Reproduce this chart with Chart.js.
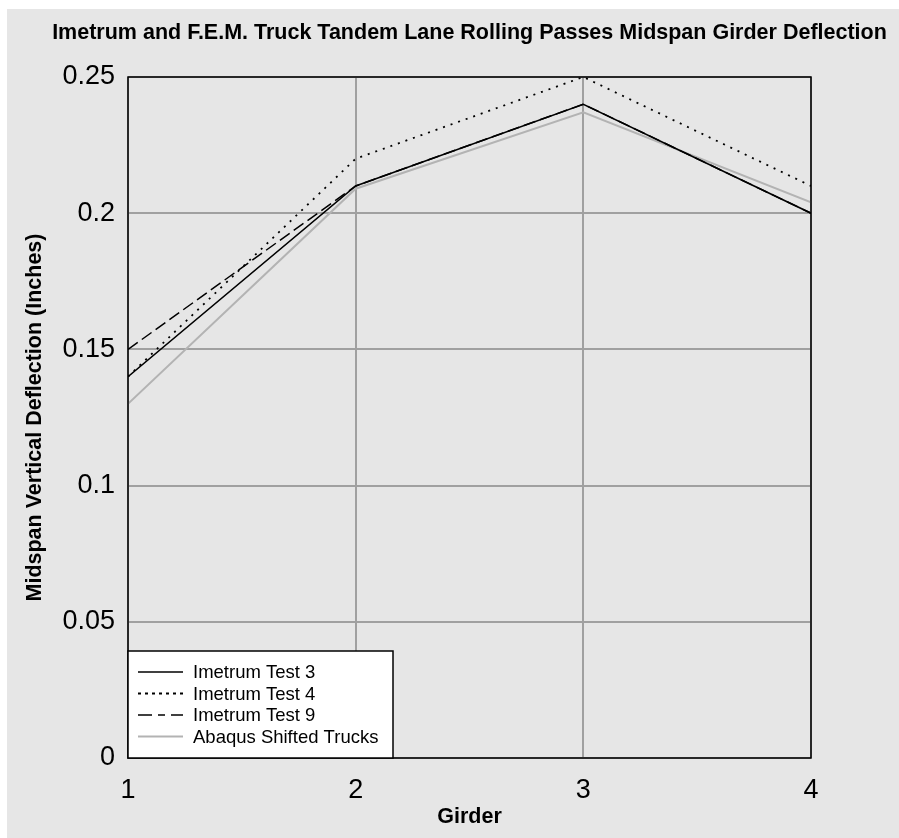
<!DOCTYPE html>
<html>
<head>
<meta charset="utf-8">
<title>Midspan Girder Deflection</title>
<script src="https://cdn.jsdelivr.net/npm/chart.js@4.4.1/dist/chart.umd.min.js"></script>
<style>
  html, body { margin: 0; padding: 0; background: #ffffff; }
  canvas { display: block; }
</style>
</head>
<body>
<canvas id="chart" width="899" height="838"></canvas>
<script>
// Girder numbers along the x axis
const girders = [1, 2, 3, 4];

// Midspan vertical deflection per girder (inches)
const imetrumTest3 = [0.14, 0.21, 0.24, 0.20];
const imetrumTest4 = [0.14, 0.22, 0.25, 0.21];
const imetrumTest9 = [0.15, 0.21, 0.24, 0.20];
const abaqusShifted = [0.13, 0.209, 0.237, 0.204];

// Y axis tick labels
const yTickLabels = ['0', '0.05', '0.1', '0.15', '0.2', '0.25'];

const seriesNames = ['Imetrum Test 3', 'Imetrum Test 4', 'Imetrum Test 9', 'Abaqus Shifted Trucks'];
const chartTitle = 'Imetrum and F.E.M. Truck Tandem Lane Rolling Passes Midspan Girder Deflection';

const FONT = "'Liberation Sans', Arial, Helvetica, sans-serif";
const PANEL = '#e6e6e6';

const toPoints = vals => girders.map((g, i) => ({ x: g, y: vals[i] }));

// Panel background, title, frame and in-plot legend
const decorations = {
  id: 'decorations',
  beforeDraw(chart) {
    const { ctx, width, height, chartArea: a } = chart;
    ctx.save();
    ctx.fillStyle = '#ffffff';
    ctx.fillRect(0, 0, width, height);
    ctx.fillStyle = PANEL;
    ctx.fillRect(7, 9, width - 7, height - 9);
    // title centred over the plot, allowed to run past its edges
    ctx.fillStyle = '#000000';
    ctx.font = 'bold 21.5px ' + FONT;
    ctx.textAlign = 'center';
    ctx.textBaseline = 'middle';
    ctx.fillText(chartTitle, (a.left + a.right) / 2, 33);
    ctx.restore();
  },
  afterDatasetsDraw(chart) {
    const { ctx, chartArea: a } = chart;
    ctx.save();
    ctx.strokeStyle = '#000000';
    ctx.lineWidth = 1.5;
    ctx.strokeRect(a.left, a.top, a.right - a.left, a.bottom - a.top);
    ctx.restore();
  },
  afterDraw(chart) {
    const { ctx, chartArea: a } = chart;
    const boxW = 265, boxH = 107;
    const x0 = a.left, y0 = a.bottom - boxH;
    ctx.save();
    ctx.fillStyle = '#ffffff';
    ctx.fillRect(x0, y0, boxW, boxH);
    ctx.strokeStyle = '#000000';
    ctx.lineWidth = 1.5;
    ctx.strokeRect(x0, y0, boxW, boxH);
    ctx.font = '18.5px ' + FONT;
    ctx.textBaseline = 'middle';
    ctx.textAlign = 'left';
    chart.data.datasets.forEach((ds, i) => {
      const y = y0 + 21 + i * 21.5;
      ctx.beginPath();
      ctx.strokeStyle = ds.borderColor;
      ctx.lineWidth = ds.borderWidth;
      ctx.setLineDash(ds.legendDash || ds.borderDash || []);
      ctx.moveTo(x0 + 10, y);
      ctx.lineTo(x0 + 55, y);
      ctx.stroke();
      ctx.setLineDash([]);
      ctx.fillStyle = '#000000';
      ctx.fillText(ds.label, x0 + 65, y + 1);
    });
    ctx.restore();
  }
};

new Chart(document.getElementById('chart'), {
  type: 'line',
  data: {
    datasets: [
      { label: seriesNames[0], data: toPoints(imetrumTest3), borderColor: '#000000', borderWidth: 1.5, borderDash: [] },
      { label: seriesNames[1], data: toPoints(imetrumTest4), borderColor: '#000000', borderWidth: 1.8, borderDash: [2, 6], legendDash: [3, 4] },
      { label: seriesNames[2], data: toPoints(imetrumTest9), borderColor: '#000000', borderWidth: 1.5, borderDash: [12, 5], legendDash: [14, 6, 7, 6] },
      { label: seriesNames[3], data: toPoints(abaqusShifted), borderColor: '#b3b3b3', borderWidth: 2, borderDash: [] }
    ]
  },
  options: {
    responsive: false,
    animation: false,
    devicePixelRatio: 1,
    layout: { padding: { top: 77, left: 7, right: 88, bottom: 0 } },
    elements: { point: { radius: 0 }, line: { tension: 0, fill: false } },
    plugins: {
      legend: { display: false },
      tooltip: { enabled: false },
      title: { display: false }
    },
    scales: {
      x: {
        type: 'linear',
        min: 1,
        max: 4,
        afterFit(scale) { scale.height = 80; },
        ticks: {
          stepSize: 1,
          padding: 16,
          color: '#000000',
          font: { family: FONT, size: 27 },
          callback: v => String(v)
        },
        grid: { color: '#a0a0a0', lineWidth: 2, drawTicks: false },
        border: { display: false },
        title: {
          display: true,
          text: 'Girder',
          color: '#000000',
          font: { family: FONT, size: 21.5, weight: 'bold' },
          padding: { top: 0, bottom: 8 }
        }
      },
      y: {
        min: 0,
        max: 0.25,
        afterFit(scale) { scale.width = 121; },
        ticks: {
          stepSize: 0.05,
          padding: 13,
          color: '#000000',
          font: { family: FONT, size: 27 },
          callback: (v, i) => yTickLabels[i]
        },
        grid: { color: '#a0a0a0', lineWidth: 2, drawTicks: false },
        border: { display: false },
        title: {
          display: true,
          text: 'Midspan Vertical Deflection (Inches)',
          color: '#000000',
          font: { family: FONT, size: 21.5, weight: 'bold' },
          padding: { top: 15, bottom: 0 }
        }
      }
    }
  },
  plugins: [decorations]
});
</script>
</body>
</html>
